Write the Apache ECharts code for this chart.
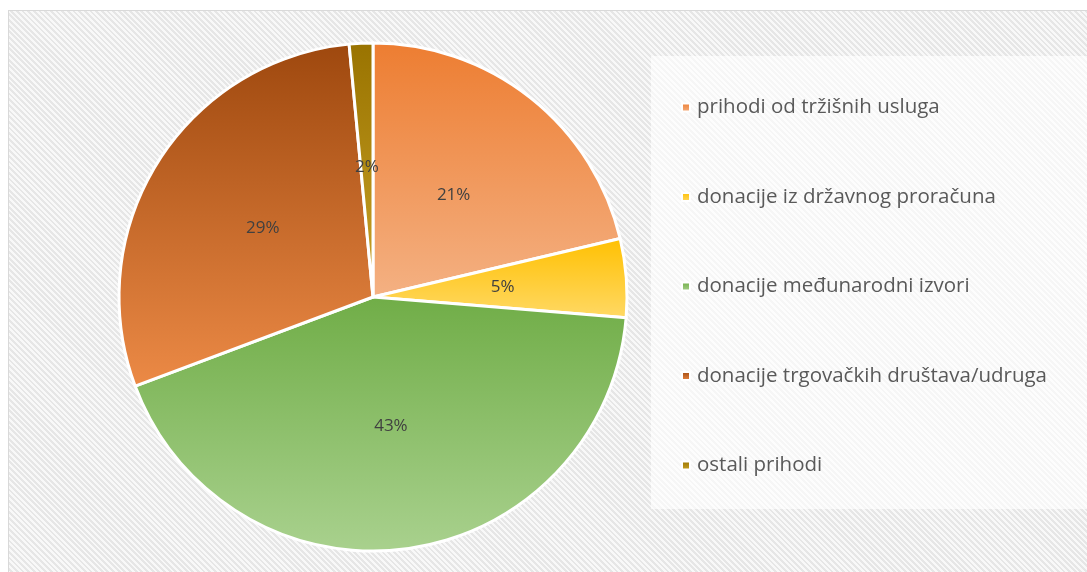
<!DOCTYPE html>
<html>
<head>
<meta charset="utf-8">
<script src="https://cdn.jsdelivr.net/npm/echarts@6/dist/echarts.min.js"></script>
<style>
  html, body { margin: 0; padding: 0; background: #fff; }
  #chart {
    position: absolute; left: 8px; top: 10px; width: 1085px; height: 562px;
    border: 1px solid #d9d9d9;
    background: repeating-linear-gradient(45deg, #f8f8f8 0px, #f8f8f8 2px, #e6e6e6 2px, #e6e6e6 4px);
  }
</style>
</head>
<body>
<div id="chart"></div>
<script>
var categories = ['prihodi od tržišnih usluga', 'donacije iz državnog proračuna', 'donacije međunarodni izvori', 'donacije trgovačkih društava/udruga', 'ostali prihodi'];
var shares = [21.3, 5.0, 43.0, 29.2, 1.5];
var topColors = ['#ED7D31', '#FFC000', '#70AD47', '#9E480E', '#997300'];
var bottomColors = ['#F4B183', '#FFD966', '#A9D18E', '#EC8A46', '#C9A227'];

var chart = echarts.init(document.getElementById('chart'));

var data = categories.map(function (name, i) {
    return {
        name: name,
        value: shares[i],
        itemStyle: {
            color: new echarts.graphic.LinearGradient(0, 0, 0, 1, [
                {offset: 0, color: topColors[i]},
                {offset: 1, color: bottomColors[i]}
            ])
        }
    };
});

chart.setOption({
    backgroundColor: 'transparent',
    animation: false,
    graphic: [{
        type: 'rect', left: 642, top: 45,
        shape: {width: 440, height: 453},
        style: {fill: 'rgba(255,255,255,0.65)'},
        z: -1
    }],
    legend: {
        orient: 'vertical',
        left: 667, top: 81,
        itemWidth: 8, itemHeight: 8,
        itemGap: 68.5,
        icon: 'rect',
        textStyle: {fontFamily: 'Open Sans', fontSize: 20.5, color: '#595959', padding: [0, 0, 0, 2]},
        data: categories
    },
    series: [{
        type: 'pie',
        center: [364, 286],
        radius: 254,
        startAngle: 90,
        clockwise: true,
        label: {
            show: true,
            position: 'inside',
            fontFamily: 'Open Sans',
            fontSize: 17,
            color: '#404040',
            formatter: function (p) { return Math.round(p.percent) + '%'; }
        },
        labelLine: {show: false},
        itemStyle: {borderColor: '#fff', borderWidth: 3},
        emphasis: {disabled: true},
        data: data
    }]
});
</script>
</body>
</html>
